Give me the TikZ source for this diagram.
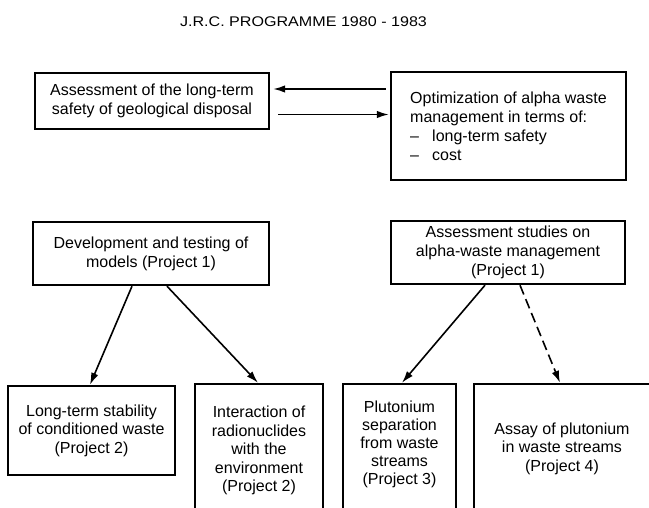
\documentclass[tikz,border=0pt]{standalone}
\usepackage{fontspec}
\setmainfont{Liberation Sans}
\usetikzlibrary{arrows.meta}
\begin{document}
\begin{tikzpicture}[x=1pt,y=-1pt,
  box/.style={draw, line width=2.4pt, inner sep=0pt, align=center, font=\fontsize{16}{19}\selectfont},
  lbl/.style={inner sep=0pt, align=center, font=\fontsize{16}{18.5}\selectfont},
  arr/.style={line width=1.6pt, -{Latex[length=12pt,width=7.5pt]}},
]
\useasboundingbox (0,0) rectangle (649,508);
\clip (0,0) rectangle (649,508);
\node[inner sep=0pt, anchor=base, font=\fontsize{14}{16}\selectfont\addfontfeature{FakeStretch=1.15}] (title) at (303.5,27) {J.R.C. PROGRAMME 1980 - 1983};

\node[box, minimum width=234pt, minimum height=56pt] (asm) at (152,101) {Assessment of the long-term\\safety of geological disposal};
\node[box, align=left, minimum width=235pt, minimum height=108pt] (opt) at (508.5,126) {Optimization of alpha waste\\management in terms of:\\\makebox[22pt][l]{--}long-term safety\\\makebox[22pt][l]{--}cost};

\node[box, minimum width=236pt, minimum height=63pt] (dev) at (151,253.5) {Development and testing of\\models (Project 1)};
\node[box, minimum width=234pt, minimum height=63pt] (ass) at (508,252.5) {Assessment studies on\\alpha-waste management\\(Project 1)};

\node[box, font=\fontsize{16}{18.5}\selectfont, minimum width=167pt, minimum height=89pt] (b1) at (91.5,430.5) {Long-term stability\\of conditioned waste\\(Project 2)};
\node[box, minimum width=128pt, minimum height=131pt] (b2) at (259,449.5) {};
\node[box, minimum width=113pt, minimum height=131pt] (b3) at (399.5,449.5) {};
\node[box, minimum width=191pt, minimum height=131pt] (b4) at (569.5,449.5) {};
\node[lbl] (t2) at (259,450.5) {Interaction of\\radionuclides\\with the\\environment\\(Project 2)};
\node[lbl, font=\fontsize{16}{18}\selectfont] (t3) at (399.5,444) {Plutonium\\separation\\from waste\\streams\\(Project 3)};
\node[lbl] (t4) at (562,448.5) {Assay of plutonium\\in waste streams\\(Project 4)};

\draw[arr, shorten <=4pt, shorten >=3pt] (opt.west |- 0,89) -- (asm.east |- 0,89);
\draw[arr, shorten <=8pt, shorten >=1pt] (asm.east |- 0,114.5) -- (opt.west |- 0,114.5);

\draw[arr] (132,0 |- dev.south) -- (90,0 |- b1.north);
\draw[arr] (167,0 |- dev.south) -- (258,0 |- b2.north);
\draw[arr] (485,0 |- ass.south) -- (402,0 |- b3.north);
\draw[arr, dash pattern=on 10pt off 5pt] (520,0 |- ass.south) -- (560,0 |- b4.north);
\end{tikzpicture}
\end{document}
